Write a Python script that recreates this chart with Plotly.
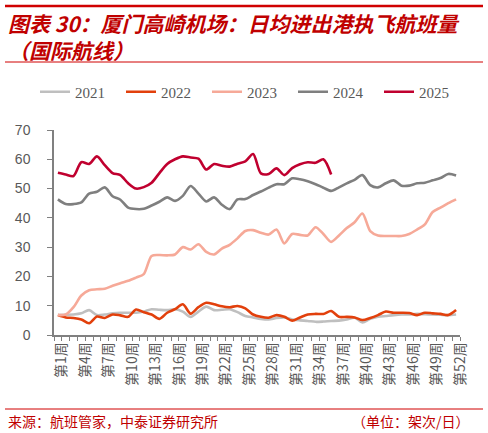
import plotly.graph_objects as go

weeks = [f"第{i}周" for i in range(1, 53)]
tick_text = [w if (i % 3 == 0) else "" for i, w in enumerate(weeks)]

y2021 = [6.8, 6.9, 7.0, 7.4, 8.5, 6.8, 7.0, 7.4, 7.6, 7.6, 7.6, 8.0, 8.8, 8.6, 8.5, 8.8,
         8.0, 6.2, 8.0, 9.7, 8.5, 8.6, 8.8, 7.8, 6.5, 6.0, 5.5, 5.3, 5.8, 6.0, 5.3, 5.0,
         4.8, 4.5, 4.6, 4.8, 4.9, 5.3, 5.9, 4.3, 5.5, 6.2, 6.5, 6.8, 7.0, 7.0, 7.2, 7.1,
         7.0, 6.9, 6.8, 7.0]
y2022 = [6.8, 6.0, 5.8, 5.3, 4.0, 6.3, 5.8, 7.0, 6.7, 6.2, 8.7, 7.8, 7.0, 5.5, 7.6, 8.8,
         10.5, 7.3, 9.5, 11.0, 10.5, 9.8, 9.5, 9.9, 9.1, 7.0, 6.2, 5.9, 6.8, 6.2, 4.9, 6.0,
         7.0, 7.2, 7.2, 8.2, 6.2, 6.2, 6.0, 5.1, 5.8, 6.8, 8.0, 7.6, 7.6, 7.5, 6.8, 7.6,
         7.4, 7.2, 6.8, 8.5]
y2023 = [6.8, 7.0, 9.5, 13.5, 15.3, 15.6, 15.8, 16.8, 17.7, 18.5, 19.6, 20.8, 27.0, 27.3,
         27.2, 27.5, 30.0, 29.2, 31.0, 28.4, 27.5, 29.5, 30.8, 33.0, 35.5, 35.8, 34.9, 34.3,
         36.0, 31.3, 34.5, 34.2, 34.0, 36.8, 34.5, 31.8, 34.0, 36.5, 38.5, 41.5, 35.5, 34.0,
         33.8, 33.8, 33.8, 34.5, 36.0, 37.8, 42.0, 43.5, 45.0, 46.3]
y2024 = [46.3, 44.7, 44.7, 45.3, 48.3, 48.9, 50.4, 47.4, 46.2, 43.5, 43.0, 43.1, 44.2, 45.5,
         47.0, 45.8, 47.5, 50.9, 48.3, 45.6, 47.0, 44.5, 43.0, 46.3, 46.4, 47.8, 49.0, 50.3,
         51.5, 51.5, 53.5, 53.2, 52.5, 51.5, 50.3, 49.2, 50.4, 51.8, 53.0, 54.6, 51.2, 50.4,
         51.8, 52.8, 51.0, 51.0, 51.8, 52.0, 52.8, 53.6, 55.0, 54.5]
y2025 = [55.4, 54.8, 54.3, 59.0, 58.4, 61.0, 58.0, 55.3, 54.6, 51.8, 50.0, 50.5, 52.0, 55.3,
         58.4, 60.0, 61.0, 60.6, 60.2, 56.5, 58.4, 57.8, 57.5, 58.5, 59.3, 61.8, 55.2, 55.0,
         56.9, 54.6, 57.0, 58.3, 59.0, 58.8, 60.0, 54.8]

series = [
    ("2021", y2021, "#BFBFBF"),
    ("2022", y2022, "#E2400C"),
    ("2023", y2023, "#F6A998"),
    ("2024", y2024, "#7F7F7F"),
    ("2025", y2025, "#C0002F"),
]

fig = go.Figure()
for name, ys, color in series:
    fig.add_trace(go.Scatter(
        x=weeks[:len(ys)], y=ys, name=name, mode="lines",
        line=dict(color=color, width=2.6, shape="spline", smoothing=0.8),
    ))

W, H = 488, 433
L, R, T, B = 54, 28, 130, 98
pw, ph = W - L - R, H - T - B

def px(x):
    return (x - L) / pw

def py(y):
    return (H - B - y) / ph

red = "#C00000"
cjk = "Noto Sans CJK SC"

shapes = [
    dict(type="line", xref="paper", yref="paper", x0=px(5), x1=px(483), y0=py(6), y1=py(6),
         line=dict(color="#D00000", width=2.3)),
    dict(type="line", xref="paper", yref="paper", x0=px(5), x1=px(483), y0=py(62), y1=py(62),
         line=dict(color="#D00000", width=1)),
    dict(type="line", xref="paper", yref="paper", x0=px(5), x1=px(483), y0=py(409), y1=py(409),
         line=dict(color="#D00000", width=1)),
]

annotations = [
    dict(text="图表 30：厦门高崎机场：日均进出港执飞航班量<br>（国际航线）", xref="paper", yref="paper",
         x=px(6), y=py(36.5), xanchor="left", yanchor="middle", align="left", showarrow=False,
         font=dict(family=cjk, size=21, color=red, weight="bold", style="italic")),
    dict(text="来源：航班管家，中泰证券研究所", xref="paper", yref="paper",
         x=px(6), y=py(421), xanchor="left", yanchor="middle", showarrow=False,
         font=dict(family=cjk, size=14, color=red)),
    dict(text="（单位：架次/日）", xref="paper", yref="paper",
         x=px(472), y=py(421), xanchor="right", yanchor="middle", showarrow=False,
         font=dict(family=cjk, size=14, color=red)),
]

fig.update_layout(
    width=W, height=H,
    margin=dict(l=L, r=R, t=T, b=B, autoexpand=False),
    paper_bgcolor="white", plot_bgcolor="white",
    shapes=shapes, annotations=annotations,
    showlegend=True,
    legend=dict(orientation="h", x=px(35), y=py(92), xanchor="left", yanchor="middle",
                font=dict(family="Liberation Serif", size=15, color="#595959"),
                entrywidth=41, entrywidthmode="pixels",
                bgcolor="rgba(0,0,0,0)"),
    xaxis=dict(
        type="category", categoryorder="array", categoryarray=weeks,
        range=[-0.5, 51.5],
        tickmode="array", tickvals=weeks, ticktext=tick_text,
        tickangle=-90, tickson="boundaries", ticks="outside", ticklen=4,
        tickcolor="#808080", tickwidth=1,
        showline=True, linecolor="#808080", linewidth=1.5,
        showgrid=False, zeroline=False,
        ticklabelshift=4,
        tickfont=dict(family=cjk, size=14, color="#595959"),
    ),
    yaxis=dict(
        range=[0, 70], dtick=10, tick0=0,
        ticks="outside", ticklen=5, tickcolor="#808080", tickwidth=1,
        showline=True, linecolor="#808080", linewidth=1.5,
        showgrid=False, zeroline=False,
        ticklabelstandoff=14,
        tickfont=dict(family="Liberation Sans", size=14, color="#595959"),
    ),
)

fig.write_html("out.html", config={"displayModeBar": False},
               post_script="document.body.style.margin='0';")
